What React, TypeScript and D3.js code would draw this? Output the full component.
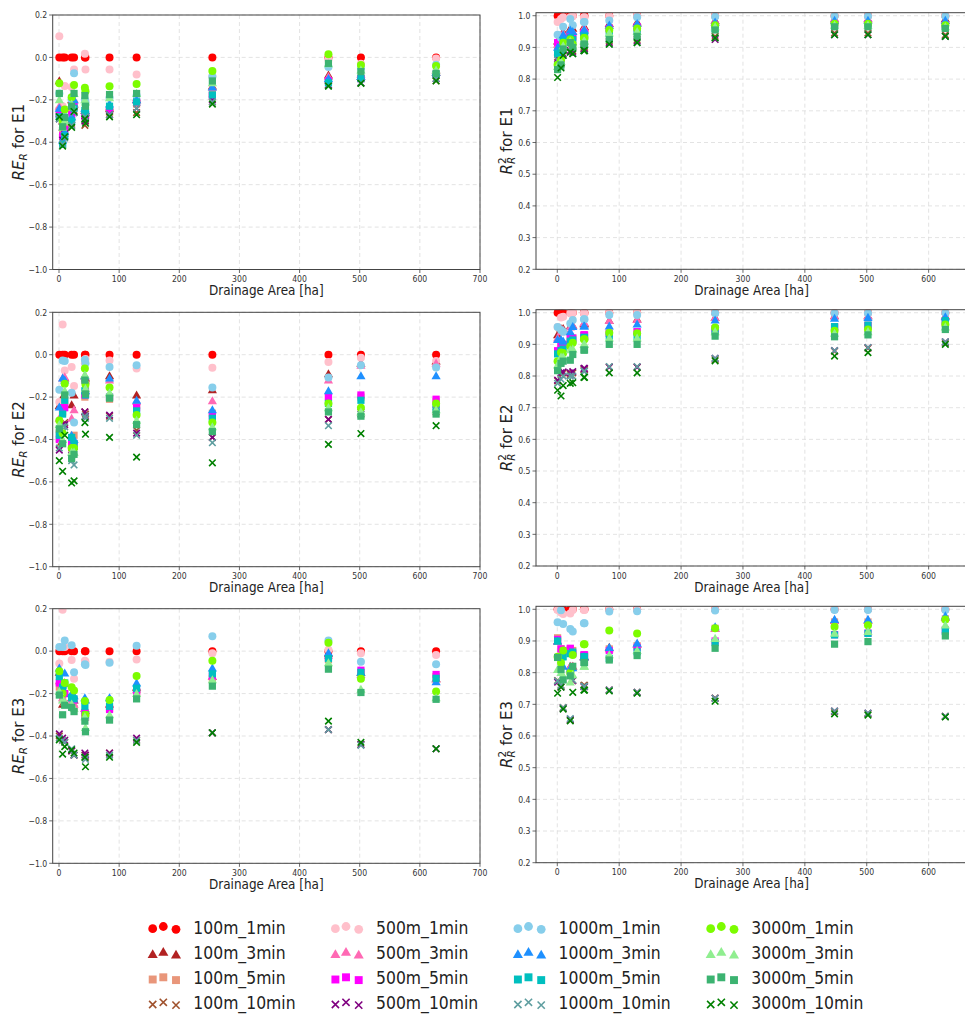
import React from "react";
import * as d3 from "d3";

// drainage areas of the catchments [ha]
const areas = [0.5, 6, 9.5, 21, 25, 43, 44, 84, 129, 255, 448, 502, 627];

const seriesNames = [
  "100m_1min", "100m_3min", "100m_5min", "100m_10min",
  "500m_1min", "500m_3min", "500m_5min", "500m_10min",
  "1000m_1min", "1000m_3min", "1000m_5min", "1000m_10min",
  "3000m_1min", "3000m_3min", "3000m_5min", "3000m_10min",
];

// RE_R per series (rows follow seriesNames), columns follow areas
const reE1 = [
  [0, 0, 0, 0, 0, 0, 0, 0, 0, 0, 0, 0, 0],
  [-0.11, -0.3, -0.28, -0.2, -0.22, -0.25, -0.26, -0.24, -0.2, -0.135, -0.083, -0.09, -0.07],
  [-0.25, -0.36, -0.33, -0.26, -0.22, -0.27, -0.28, -0.26, -0.22, -0.17, -0.11, -0.1, -0.085],
  [-0.28, -0.4, -0.37, -0.31, -0.25, -0.32, -0.3, -0.27, -0.26, -0.21, -0.13, -0.12, -0.11],
  [0.1, -0.23, -0.135, -0.14, -0.057, 0.017, -0.057, -0.057, -0.08, -0.09, -0.01, -0.03, -0.005],
  [-0.23, -0.33, -0.3, -0.22, -0.2, -0.25, -0.26, -0.23, -0.19, -0.14, -0.09, -0.08, -0.06],
  [-0.27, -0.37, -0.34, -0.27, -0.23, -0.28, -0.27, -0.25, -0.21, -0.18, -0.11, -0.1, -0.08],
  [-0.29, -0.39, -0.36, -0.32, -0.26, -0.3, -0.29, -0.27, -0.24, -0.2, -0.13, -0.12, -0.1],
  [-0.17, -0.3, -0.28, -0.2, -0.075, -0.2, -0.21, -0.19, -0.18, -0.09, -0.045, -0.05, -0.035],
  [-0.24, -0.39, -0.35, -0.28, -0.2, -0.24, -0.25, -0.22, -0.2, -0.14, -0.1, -0.09, -0.07],
  [-0.28, -0.41, -0.37, -0.3, -0.24, -0.25, -0.26, -0.23, -0.21, -0.177, -0.12, -0.1, -0.08],
  [-0.29, -0.41, -0.38, -0.32, -0.26, -0.29, -0.28, -0.27, -0.24, -0.21, -0.135, -0.12, -0.1],
  [-0.122, -0.3, -0.245, -0.188, -0.13, -0.143, -0.16, -0.136, -0.125, -0.064, 0.015, -0.036, -0.04],
  [-0.2, -0.33, -0.3, -0.22, -0.17, -0.2, -0.21, -0.19, -0.17, -0.12, -0.03, -0.06, -0.06],
  [-0.17, -0.327, -0.283, -0.23, -0.17, -0.18, -0.23, -0.175, -0.17, -0.111, -0.028, -0.067, -0.075],
  [-0.28, -0.418, -0.374, -0.33, -0.255, -0.29, -0.31, -0.28, -0.27, -0.22, -0.135, -0.122, -0.111],
];

const reE2 = [
  [0, 0, 0, 0, 0, 0, 0, 0, 0, 0, 0, 0, 0],
  [-0.24, -0.2, -0.11, -0.236, -0.19, -0.1, -0.11, -0.1, -0.19, -0.166, -0.09, -0.04, -0.03],
  [-0.37, -0.27, -0.22, -0.4, -0.38, -0.2, -0.17, -0.21, -0.24, -0.276, -0.2, -0.2, -0.22],
  [-0.42, -0.33, -0.32, -0.44, -0.43, -0.27, -0.28, -0.29, -0.357, -0.39, -0.305, -0.28, -0.27],
  [-0.223, 0.143, -0.074, -0.058, -0.148, -0.04, -0.02, -0.027, -0.065, -0.061, -0.034, -0.014, -0.03],
  [-0.3, -0.11, -0.105, -0.3, -0.26, -0.1, -0.12, -0.12, -0.22, -0.218, -0.12, -0.05, -0.04],
  [-0.4, -0.25, -0.25, -0.415, -0.42, -0.19, -0.18, -0.2, -0.25, -0.29, -0.2, -0.19, -0.21],
  [-0.45, -0.33, -0.33, -0.45, -0.46, -0.27, -0.29, -0.285, -0.37, -0.39, -0.305, -0.27, -0.26],
  [-0.165, -0.027, -0.03, -0.18, -0.32, -0.024, -0.04, -0.058, -0.05, -0.155, -0.107, -0.05, -0.06],
  [-0.247, -0.11, -0.12, -0.38, -0.4, -0.1, -0.17, -0.11, -0.215, -0.26, -0.17, -0.1, -0.1],
  [-0.38, -0.28, -0.215, -0.39, -0.42, -0.17, -0.19, -0.2, -0.265, -0.3, -0.23, -0.215, -0.25],
  [-0.44, -0.34, -0.34, -0.5, -0.52, -0.29, -0.3, -0.3, -0.38, -0.415, -0.335, -0.28, -0.26],
  [-0.31, -0.37, -0.137, -0.44, -0.44, -0.065, -0.14, -0.155, -0.285, -0.32, -0.23, -0.25, -0.23],
  [-0.33, -0.4, -0.17, -0.46, -0.46, -0.095, -0.16, -0.18, -0.31, -0.34, -0.25, -0.27, -0.26],
  [-0.35, -0.42, -0.19, -0.49, -0.47, -0.12, -0.185, -0.205, -0.33, -0.363, -0.27, -0.29, -0.28],
  [-0.5, -0.55, -0.38, -0.605, -0.595, -0.32, -0.375, -0.39, -0.483, -0.51, -0.423, -0.372, -0.335],
];

const reE3 = [
  [0, 0, 0, 0, 0, 0, 0, 0, 0, 0, 0, 0, 0],
  [-0.1, -0.25, -0.15, -0.22, -0.23, -0.27, -0.28, -0.25, -0.17, -0.12, -0.01, -0.1, -0.13],
  [-0.17, -0.22, -0.2, -0.26, -0.27, -0.3, -0.31, -0.27, -0.2, -0.13, -0.04, -0.1, -0.12],
  [-0.4, -0.42, -0.43, -0.47, -0.49, -0.49, -0.5, -0.48, -0.42, -0.385, -0.37, -0.44, -0.46],
  [-0.058, 0.195, 0.02, -0.042, -0.13, -0.045, -0.05, -0.05, -0.04, -0.01, 0.007, -0.01, -0.018],
  [-0.14, -0.22, -0.2, -0.24, -0.25, -0.27, -0.28, -0.25, -0.18, -0.12, -0.02, -0.11, -0.13],
  [-0.15, -0.18, -0.2, -0.22, -0.23, -0.29, -0.31, -0.275, -0.19, -0.117, -0.03, -0.09, -0.11],
  [-0.39, -0.41, -0.42, -0.47, -0.49, -0.48, -0.49, -0.48, -0.41, -0.385, -0.37, -0.44, -0.46],
  [0.02, 0.02, 0.05, 0.028, -0.1, -0.062, -0.065, -0.055, 0.025, 0.07, 0.05, -0.05, -0.062],
  [-0.08, -0.16, -0.103, -0.2, -0.21, -0.22, -0.23, -0.22, -0.15, -0.08, -0.008, -0.1, -0.145],
  [-0.12, -0.17, -0.15, -0.22, -0.225, -0.26, -0.3, -0.26, -0.175, -0.107, -0.035, -0.1, -0.128],
  [-0.41, -0.42, -0.43, -0.46, -0.49, -0.5, -0.51, -0.49, -0.42, -0.385, -0.37, -0.444, -0.46],
  [-0.095, -0.2, -0.15, -0.17, -0.185, -0.235, -0.3, -0.23, -0.117, -0.045, 0.04, -0.13, -0.19],
  [-0.19, -0.23, -0.24, -0.25, -0.27, -0.31, -0.36, -0.3, -0.2, -0.135, -0.055, -0.18, -0.22],
  [-0.207, -0.3, -0.255, -0.265, -0.285, -0.33, -0.38, -0.325, -0.225, -0.165, -0.085, -0.195, -0.227],
  [-0.418, -0.485, -0.45, -0.465, -0.48, -0.5, -0.545, -0.5, -0.43, -0.385, -0.33, -0.43, -0.46],
];

// R^2_R per series
const r2E1 = [
  [1, 1, 1, 1, 1, 1, 1, 1, 1, 1, 1, 1, 1],
  [0.92, 0.93, 0.95, 0.96, 0.96, 0.965, 0.965, 0.975, 0.98, 0.985, 0.99, 0.99, 0.99],
  [0.9, 0.9, 0.93, 0.94, 0.93, 0.94, 0.94, 0.955, 0.96, 0.97, 0.975, 0.975, 0.97],
  [0.87, 0.85, 0.89, 0.9, 0.89, 0.9, 0.9, 0.92, 0.925, 0.935, 0.945, 0.945, 0.94],
  [0.98, 0.99, 0.995, 0.995, 0.998, 0.995, 0.995, 0.998, 0.999, 1.0, 1.0, 1.0, 1.0],
  [0.91, 0.93, 0.945, 0.955, 0.95, 0.96, 0.96, 0.97, 0.975, 0.98, 0.99, 0.99, 0.985],
  [0.915, 0.91, 0.93, 0.94, 0.935, 0.945, 0.945, 0.96, 0.965, 0.97, 0.975, 0.975, 0.97],
  [0.865, 0.85, 0.88, 0.89, 0.885, 0.895, 0.895, 0.915, 0.92, 0.925, 0.94, 0.94, 0.935],
  [0.94, 0.93, 0.965, 0.99, 0.97, 0.98, 0.98, 0.985, 0.995, 0.997, 0.998, 0.998, 0.998],
  [0.9, 0.91, 0.94, 0.955, 0.95, 0.955, 0.955, 0.97, 0.975, 0.98, 0.985, 0.985, 0.985],
  [0.88, 0.89, 0.92, 0.93, 0.925, 0.935, 0.935, 0.945, 0.95, 0.96, 0.97, 0.97, 0.965],
  [0.86, 0.84, 0.875, 0.885, 0.88, 0.89, 0.89, 0.91, 0.915, 0.93, 0.94, 0.94, 0.935],
  [0.845, 0.86, 0.915, 0.925, 0.91, 0.93, 0.93, 0.955, 0.96, 0.97, 0.975, 0.975, 0.97],
  [0.84, 0.855, 0.905, 0.92, 0.905, 0.92, 0.92, 0.945, 0.95, 0.965, 0.97, 0.97, 0.965],
  [0.83, 0.845, 0.895, 0.915, 0.9, 0.91, 0.91, 0.925, 0.935, 0.955, 0.965, 0.965, 0.96],
  [0.805, 0.835, 0.875, 0.885, 0.88, 0.89, 0.89, 0.91, 0.915, 0.93, 0.94, 0.94, 0.935],
];

const r2E2 = [
  [1, 1, 1, 1, 1, 1, 1, 1, 1, 1, 1, 1, 1],
  [0.93, 0.95, 0.95, 0.958, 0.96, 0.965, 0.965, 0.975, 0.98, 0.985, 0.99, 0.99, 0.99],
  [0.875, 0.895, 0.9, 0.92, 0.92, 0.928, 0.928, 0.935, 0.94, 0.945, 0.955, 0.96, 0.97],
  [0.785, 0.805, 0.81, 0.805, 0.81, 0.82, 0.82, 0.828, 0.828, 0.852, 0.878, 0.888, 0.905],
  [0.955, 0.985, 0.987, 0.998, 0.999, 0.999, 0.998, 0.999, 0.999, 1.0, 1.0, 1.0, 1.0],
  [0.92, 0.94, 0.945, 0.955, 0.96, 0.968, 0.968, 0.975, 0.978, 0.985, 0.99, 0.99, 0.99],
  [0.88, 0.9, 0.9, 0.924, 0.92, 0.93, 0.93, 0.935, 0.94, 0.95, 0.955, 0.96, 0.97],
  [0.787, 0.81, 0.813, 0.81, 0.814, 0.824, 0.824, 0.828, 0.828, 0.856, 0.88, 0.89, 0.908],
  [0.955, 0.945, 0.94, 0.966, 0.977, 0.979, 0.979, 0.993, 0.993, 0.998, 0.998, 0.998, 0.999],
  [0.915, 0.915, 0.91, 0.94, 0.956, 0.958, 0.958, 0.958, 0.964, 0.977, 0.982, 0.985, 0.987],
  [0.87, 0.88, 0.885, 0.91, 0.914, 0.922, 0.922, 0.926, 0.925, 0.94, 0.956, 0.961, 0.975],
  [0.777, 0.79, 0.8, 0.8, 0.8, 0.815, 0.815, 0.83, 0.83, 0.856, 0.88, 0.89, 0.908],
  [0.847, 0.874, 0.873, 0.893, 0.905, 0.916, 0.916, 0.937, 0.935, 0.953, 0.943, 0.947, 0.963],
  [0.835, 0.86, 0.86, 0.883, 0.885, 0.9, 0.9, 0.92, 0.92, 0.94, 0.935, 0.94, 0.955],
  [0.817, 0.84, 0.847, 0.85, 0.868, 0.882, 0.882, 0.9, 0.9, 0.926, 0.924, 0.93, 0.947],
  [0.755, 0.737, 0.77, 0.777, 0.779, 0.796, 0.796, 0.81, 0.81, 0.848, 0.863, 0.874, 0.9],
];

const r2E3 = [
  [1, 1, 1, 1, 1, 1, 1, 1, 1, 1, 1, 1, 1],
  [0.9, 0.86, 0.87, 0.82, 0.82, 0.85, 0.85, 0.88, 0.89, 0.94, 0.965, 0.965, 0.975],
  [0.91, 0.875, 0.86, 0.875, 0.87, 0.855, 0.855, 0.875, 0.885, 0.94, 0.96, 0.96, 0.97],
  [0.775, 0.76, 0.69, 0.65, 0.775, 0.76, 0.76, 0.745, 0.738, 0.72, 0.677, 0.67, 0.662],
  [0.998, 0.99, 0.985, 0.987, 0.998, 0.998, 0.998, 0.999, 0.999, 1.0, 1.0, 1.0, 1.0],
  [0.9, 0.86, 0.87, 0.82, 0.82, 0.85, 0.85, 0.875, 0.89, 0.94, 0.965, 0.965, 0.975],
  [0.905, 0.875, 0.87, 0.877, 0.86, 0.856, 0.856, 0.87, 0.88, 0.9, 0.92, 0.925, 0.935],
  [0.77, 0.755, 0.687, 0.652, 0.775, 0.756, 0.756, 0.745, 0.738, 0.719, 0.679, 0.672, 0.662],
  [0.959, 0.997, 0.954, 0.938, 0.93, 0.956, 0.956, 0.993, 0.994, 0.996, 0.998, 0.998, 0.998],
  [0.9, 0.85, 0.82, 0.814, 0.815, 0.85, 0.85, 0.879, 0.893, 0.945, 0.968, 0.968, 0.979],
  [0.9, 0.85, 0.85, 0.86, 0.865, 0.85, 0.85, 0.845, 0.866, 0.895, 0.919, 0.924, 0.93],
  [0.774, 0.76, 0.69, 0.655, 0.777, 0.757, 0.757, 0.745, 0.738, 0.719, 0.679, 0.672, 0.662],
  [0.85, 0.831, 0.87, 0.8, 0.856, 0.89, 0.89, 0.933, 0.924, 0.94, 0.945, 0.95, 0.968],
  [0.81, 0.8, 0.79, 0.77, 0.793, 0.82, 0.82, 0.856, 0.87, 0.908, 0.924, 0.93, 0.95],
  [0.848, 0.81, 0.777, 0.79, 0.82, 0.832, 0.832, 0.84, 0.854, 0.877, 0.89, 0.898, 0.916],
  [0.735, 0.754, 0.685, 0.648, 0.738, 0.745, 0.745, 0.742, 0.735, 0.71, 0.67, 0.666, 0.66],
];

const reTicks = [-1.0, -0.8, -0.6, -0.4, -0.2, 0.0, 0.2];
const r2Ticks = [0.2, 0.3, 0.4, 0.5, 0.6, 0.7, 0.8, 0.9, 1.0];
const xTicksLeft = [0, 100, 200, 300, 400, 500, 600, 700];
const xTicksRight = [0, 100, 200, 300, 400, 500, 600];

// styles
const COLORS = [
  "#ff0000", "#b22222", "#e9967a", "#a0522d",
  "#ffc0cb", "#ff69b4", "#ff00ff", "#800080",
  "#87ceeb", "#1e90ff", "#00bfbf", "#5f9ea0",
  "#7cfc00", "#90ee90", "#3cb371", "#008000",
];
const SHAPES = ["o", "^", "s", "x"];
const SX = 0.86; // the source picture is squeezed horizontally
const FONT = "DejaVu Sans, sans-serif";
const INK = "#222";
const SPINE = "#444";

type Frame = { left: number; right: number; top: number; bottom: number };

const Marker = ({ shape, cx, cy, color, r = 4 }: any) => {
  if (shape === "o") return <circle cx={cx} cy={cy} r={r} fill={color} />;
  if (shape === "^") {
    const h = r * 1.15;
    return (
      <path
        d={`M${cx},${cy - h}L${cx + h},${cy + h * 0.75}L${cx - h},${cy + h * 0.75}Z`}
        fill={color}
      />
    );
  }
  if (shape === "s") {
    const h = r * 0.9;
    return <rect x={cx - h} y={cy - h} width={2 * h} height={2 * h} fill={color} />;
  }
  const h = r * 0.82;
  return (
    <path
      d={`M${cx - h},${cy - h}L${cx + h},${cy + h}M${cx - h},${cy + h}L${cx + h},${cy - h}`}
      stroke={color}
      strokeWidth={1.6}
      fill="none"
    />
  );
};

const fmt = (v: number) => d3.format(".1f")(v).replace("-", "\u2212");

const YLabel = ({ x, y, kind, ev }: any) => (
  <text
    transform={`translate(${x},${y}) rotate(-90)`}
    textAnchor="middle"
    fontSize={15}
    fontFamily={FONT}
    fill={INK}
  >
    {kind === "re" ? (
      <>
        <tspan fontStyle="italic">RE</tspan>
        <tspan fontStyle="italic" fontSize={10.5} dy={3.4}>R</tspan>
        <tspan dy={-3.4}>{` for ${ev}`}</tspan>
      </>
    ) : (
      <>
        <tspan fontStyle="italic">R</tspan>
        <tspan fontSize={10.5} dy={-6}>2</tspan>
        <tspan fontStyle="italic" fontSize={10.5} dx={-6.7} dy={9.6}>R</tspan>
        <tspan dy={-3.6}>{` for ${ev}`}</tspan>
      </>
    )}
  </text>
);

const Panel = ({ id, frame, xDomain, yDomain, xTicks, yTicks, values, kind, ev, labelX }: any) => {
  const f: Frame = frame;
  const x = d3.scaleLinear().domain(xDomain).range([f.left, f.right]);
  const y = d3.scaleLinear().domain(yDomain).range([f.bottom, f.top]);
  return (
    <g>
      <defs>
        <clipPath id={id}>
          <rect x={f.left} y={f.top} width={f.right - f.left} height={f.bottom - f.top} />
        </clipPath>
      </defs>
      {/* grid */}
      <g stroke="#dcdcdc" strokeWidth={0.8} strokeDasharray="4,3">
        {xTicks.map((t: number) => (
          <line key={"gx" + t} x1={x(t)} x2={x(t)} y1={f.top} y2={f.bottom} />
        ))}
        {yTicks.map((t: number) => (
          <line key={"gy" + t} x1={f.left} x2={f.right} y1={y(t)} y2={y(t)} />
        ))}
      </g>
      {/* points, drawn in legend order */}
      <g clipPath={`url(#${id})`}>
        {values.map((row: number[], si: number) =>
          row.map((v, ci) => (
            <Marker
              key={si + "-" + ci}
              shape={SHAPES[si % 4]}
              cx={x(areas[ci])}
              cy={y(v)}
              color={COLORS[si]}
            />
          ))
        )}
      </g>
      {/* spines */}
      <rect
        x={f.left}
        y={f.top}
        width={f.right - f.left}
        height={f.bottom - f.top}
        fill="none"
        stroke={SPINE}
        strokeWidth={1}
      />
      {/* ticks */}
      <g stroke={SPINE} strokeWidth={0.8}>
        {xTicks.map((t: number) => (
          <line key={"tx" + t} x1={x(t)} x2={x(t)} y1={f.bottom} y2={f.bottom + 3.5} />
        ))}
        {yTicks.map((t: number) => (
          <line key={"ty" + t} x1={f.left - 3.5} x2={f.left} y1={y(t)} y2={y(t)} />
        ))}
      </g>
      <g fontFamily={FONT} fontSize={9} fill="#333">
        {xTicks.map((t: number) => (
          <text
            key={"lx" + t}
            transform={`translate(${x(t)},${f.bottom + 12.5}) scale(${SX},1)`}
            textAnchor="middle"
          >
            {t}
          </text>
        ))}
        {yTicks.map((t: number) => (
          <text
            key={"ly" + t}
            transform={`translate(${f.left - 5.5},${y(t) + 3.2}) scale(${SX},1)`}
            textAnchor="end"
          >
            {fmt(t)}
          </text>
        ))}
      </g>
      <text
        transform={`translate(${(f.left + f.right) / 2},${f.bottom + 25.5}) scale(${SX},1)`}
        textAnchor="middle"
        fontSize={14}
        fontFamily={FONT}
        fill={INK}
      >
        Drainage Area [ha]
      </text>
      <YLabel x={labelX} y={(f.top + f.bottom) / 2} kind={kind} ev={ev} />
    </g>
  );
};

const Legend = () => {
  const colX = [193.3, 376, 558.5, 751.3];
  const rowY = [927.5, 953, 978.3, 1003.3];
  const handleDx = [-40.6, -30, -17.3];
  const handleDy = [1.2, -1, 1.8];
  return (
    <g>
      {seriesNames.map((name, i) => {
        const col = Math.floor(i / 4);
        const row = i % 4;
        const tx = colX[col];
        const ty = rowY[row];
        return (
          <g key={name}>
            {handleDx.map((dx, k) => (
              <Marker
                key={k}
                shape={SHAPES[row]}
                cx={tx + dx}
                cy={ty + handleDy[k]}
                color={COLORS[i]}
                r={4.4}
              />
            ))}
            <text
              transform={`translate(${tx},${ty + 6}) scale(0.92,1)`}
              fontSize={17}
              fontFamily={FONT}
              fill={INK}
            >
              {name}
            </text>
          </g>
        );
      })}
    </g>
  );
};

export default function App() {
  const leftX = [-10.5, 700];
  const rightX = [-34.4, 662];
  const reY = [-1.0, 0.2];
  const r2Y = [0.2, 1.0095];
  const panels = [
    { id: "p1", frame: { left: 52.7, right: 480, top: 15, bottom: 269.5 }, xDomain: leftX, yDomain: reY, xTicks: xTicksLeft, yTicks: reTicks, values: reE1, kind: "re", ev: "E1", labelX: 24 },
    { id: "p2", frame: { left: 536, right: 967, top: 12.7, bottom: 269.3 }, xDomain: rightX, yDomain: r2Y, xTicks: xTicksRight, yTicks: r2Ticks, values: r2E1, kind: "r2", ev: "E1", labelX: 511.5 },
    { id: "p3", frame: { left: 52.7, right: 480, top: 312.3, bottom: 566.7 }, xDomain: leftX, yDomain: reY, xTicks: xTicksLeft, yTicks: reTicks, values: reE2, kind: "re", ev: "E2", labelX: 24 },
    { id: "p4", frame: { left: 536, right: 967, top: 309.7, bottom: 566 }, xDomain: rightX, yDomain: r2Y, xTicks: xTicksRight, yTicks: r2Ticks, values: r2E2, kind: "r2", ev: "E2", labelX: 511.5 },
    { id: "p5", frame: { left: 52.7, right: 480, top: 608.7, bottom: 863.3 }, xDomain: leftX, yDomain: reY, xTicks: xTicksLeft, yTicks: reTicks, values: reE3, kind: "re", ev: "E3", labelX: 24 },
    { id: "p6", frame: { left: 536, right: 967, top: 606.3, bottom: 862.7 }, xDomain: rightX, yDomain: r2Y, xTicks: xTicksRight, yTicks: r2Ticks, values: r2E3, kind: "r2", ev: "E3", labelX: 511.5 },
  ];
  return (
    <svg
      width={965}
      height={1014}
      style={{ position: "absolute", left: 0, top: 0, display: "block", background: "#fff" }}
    >
      <rect width={965} height={1014} fill="#fff" />
      {panels.map((p) => (
        <Panel key={p.id} {...p} />
      ))}
      <Legend />
    </svg>
  );
}
